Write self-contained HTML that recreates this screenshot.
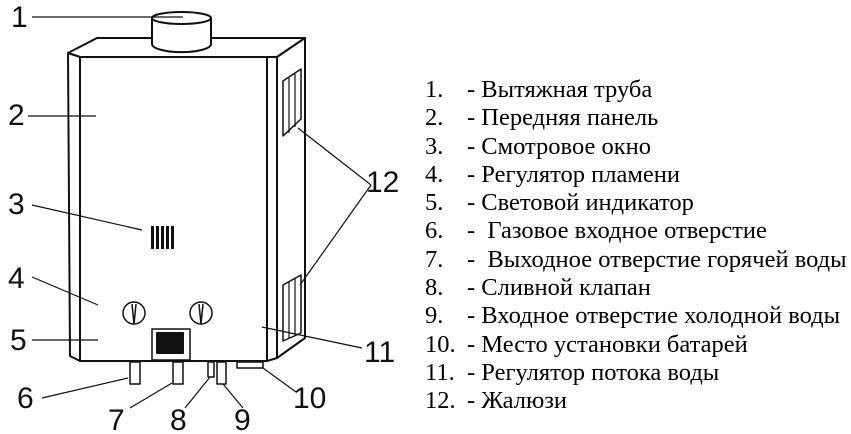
<!DOCTYPE html><html><head><meta charset="utf-8"><style>
body{margin:0;background:#fff;width:851px;height:434px;overflow:hidden}
.t{position:absolute;left:425px;top:76px;font-family:"Liberation Serif",serif;font-size:24.5px;line-height:28.3px;white-space:nowrap}
.t div{height:28.3px}
.t div span{display:inline-block;width:42px}
</style></head><body>
<svg width="851" height="434" style="position:absolute;left:0;top:0" font-family="Liberation Sans,sans-serif" font-size="30">
<g stroke="#111" stroke-width="2" fill="#fff" stroke-linejoin="round">
<polygon points="68,53 97,38 305,38 277,57 80,57"/>
<polygon points="68,53 80,57 80,361 70,356"/>
<polygon points="267,57 277,57 305,38 305,338 277,358 267,361"/>
<line x1="277" y1="57" x2="277" y2="358"/>
<rect x="80" y="57" width="187" height="304"/>
<path d="M152,18 V44 A29,8 0 0 0 211,44 V18"/>
<ellipse cx="181.5" cy="18" rx="29.5" ry="6"/>
<rect x="152" y="329" width="38" height="31" stroke-width="1.5"/>
<rect x="157" y="333" width="26" height="20" fill="#111"/>
<circle cx="134" cy="313" r="11" stroke-width="1.5"/>
<circle cx="201" cy="313" r="11" stroke-width="1.5"/>
<path d="M132,304 L134,324 L136,304" stroke-width="1.5" fill="none"/>
<path d="M199,304 L201,324 L203,304" stroke-width="1.5" fill="none"/>
<rect x="130" y="362" width="10" height="22" stroke-width="1.5"/>
<rect x="173" y="362" width="10" height="22" stroke-width="1.5"/>
<rect x="208" y="362" width="6" height="15" stroke-width="1.5"/>
<rect x="217" y="362" width="9" height="22" stroke-width="1.5"/>
<rect x="237" y="362" width="26" height="6" stroke-width="1.5"/>
<polygon points="283,81 301,69 301,119 283,136" stroke-width="1.5"/>
<polygon points="283,285 301,275 301,333 283,341" stroke-width="1.5"/>
</g>
<g fill="#111"><rect x="151" y="226" width="3" height="23"/><rect x="156" y="226" width="3" height="23"/><rect x="161" y="226" width="3" height="23"/><rect x="166" y="226" width="3" height="23"/><rect x="171" y="226" width="3" height="23"/></g>
<g stroke="#111" stroke-width="1.2">
<line x1="289" y1="78" x2="289" y2="133"/><line x1="295" y1="74" x2="295" y2="127"/>
<line x1="289" y1="282" x2="289" y2="338"/><line x1="295" y1="279" x2="295" y2="335"/>
<line x1="32" y1="17" x2="183" y2="17"/>
<line x1="28" y1="116" x2="96" y2="116"/>
<line x1="32" y1="205" x2="142" y2="230"/>
<line x1="32" y1="277" x2="98" y2="305"/>
<line x1="32" y1="340" x2="98" y2="340"/>
<line x1="42" y1="398" x2="128" y2="378"/>
<line x1="130" y1="408" x2="172" y2="383"/>
<line x1="185" y1="408" x2="210" y2="377"/>
<line x1="243" y1="408" x2="223" y2="384"/>
<line x1="296" y1="392" x2="263" y2="368"/>
<line x1="362" y1="348" x2="262" y2="327"/>
<line x1="371" y1="185" x2="298" y2="128"/>
<line x1="371" y1="185" x2="300" y2="285"/>
</g>
<g fill="#111">
<text x="11" y="27">1</text><text x="8" y="125">2</text><text x="8" y="214">3</text><text x="8" y="288">4</text><text x="10" y="350">5</text>
<text x="17" y="408">6</text><text x="108" y="430">7</text><text x="170" y="430">8</text><text x="234" y="430">9</text>
<text x="293" y="408">10</text><text x="364" y="362">11</text><text x="366" y="192">12</text>
</g>
</svg>
<div class="t"><div><span>1.</span>- Вытяжная труба</div><div><span>2.</span>- Передняя панель</div><div><span>3.</span>- Смотровое окно</div><div><span>4.</span>- Регулятор пламени</div><div><span>5.</span>- Световой индикатор</div><div><span>6.</span>- &nbsp;Газовое входное отверстие</div><div><span>7.</span>- &nbsp;Выходное отверстие горячей воды</div><div><span>8.</span>- Сливной клапан</div><div><span>9.</span>- Входное отверстие холодной воды</div><div><span>10.</span>- Место установки батарей</div><div><span>11.</span>- Регулятор потока воды</div><div><span>12.</span>- Жалюзи</div></div>
</body></html>
